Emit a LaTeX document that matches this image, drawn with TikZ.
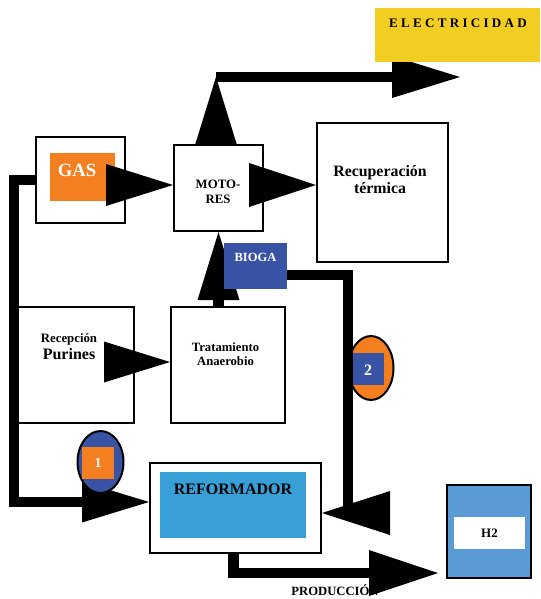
\documentclass[tikz,border=0pt]{standalone}
\usepackage{fontspec}
\setmainfont{Liberation Serif}
\usetikzlibrary{calc,shapes.geometric}
\definecolor{cOrange}{HTML}{F47F20}
\definecolor{cBlue}{HTML}{3953A4}
\definecolor{cSky}{HTML}{389FD7}
\definecolor{cHbox}{HTML}{5B9BD5}
\definecolor{cYellow}{HTML}{F2CD22}
\pgfdeclarelayer{back}
\pgfdeclarelayer{mid}
\pgfsetlayers{back,mid,main}
\begin{document}
\begin{tikzpicture}[x=0.75pt,y=-0.75pt,
  box/.style={draw, line width=1.5pt, fill=white, inner sep=0pt, rectangle},
  patch/.style={draw=none, inner sep=0pt, rectangle},
  oval/.style={ellipse, draw, line width=1.5pt, inner sep=0pt},
  txt/.style={inner sep=0pt, anchor=base, font=\bfseries},
  pipe/.style={line width=7.9pt, line join=miter, line cap=butt},
]
\useasboundingbox (0,0) rectangle (540,599);

% ---------- boxes (bottom layer) ----------
\begin{pgfonlayer}{back}
\node[box, minimum width=66.75pt, minimum height=64.5pt] (gas) at (80.5,180) {};
\node[patch, fill=cOrange, minimum width=48.75pt, minimum height=36pt] (gaslbl) at (82.5,177) {};
\node[box, minimum width=66.75pt, minimum height=64.5pt] (motores) at (218.5,188) {};
\node[box, minimum width=98.25pt, minimum height=104.25pt] (recup) at (382.5,192.5) {};
\node[box, minimum width=87pt, minimum height=87pt] (recep) at (76,365) {};
\node[box, minimum width=85.5pt, minimum height=87pt] (trat) at (228,365) {};
\node[box, minimum width=128.25pt, minimum height=67.5pt] (reform) at (235.5,508) {};
\node[patch, fill=cSky, minimum width=109.5pt, minimum height=49.5pt] (reformin) at (233,505) {};
\node[box, fill=cHbox, minimum width=63pt, minimum height=69.75pt] (h2) at (489,531.5) {};
\node[patch, fill=white, minimum width=53.25pt, minimum height=24pt] (h2in) at (489.5,533) {};
\node[oval, fill=cOrange, minimum width=33.75pt, minimum height=48pt] (c2) at (371,368) {};
\node[patch, fill=cBlue, minimum width=24pt, minimum height=24pt] (c2sq) at (368,369) {};
\node[txt, font=\bfseries\fontsize{9.5}{11}\selectfont] (prodtxt) at (335,595) {PRODUCCIÓN};
\end{pgfonlayer}

% ---------- boxes on top of connectors ----------
\node[patch, fill=cBlue, minimum width=47.25pt, minimum height=34.5pt] (biog) at (255.5,266) {};
\node[patch, fill=cYellow, minimum width=123.75pt, minimum height=40.5pt] (elec) at (457.5,35) {};
\node[oval, fill=cBlue, minimum width=34.5pt, minimum height=46.5pt] (c1) at (100.5,462) {};
\node[patch, fill=cOrange, minimum width=24pt, minimum height=24pt] (c1sq) at (98,463) {};

% ---------- connectors (middle layer) ----------
\coordinate (row1) at (0,185);
\coordinate (row2) at (0,362);
\coordinate (lcorner) at (14,502);
\coordinate (rcorner) at (348,510);
\coordinate (eleccorner) at (216,77);
\coordinate (elecend) at (460,77);
\coordinate (prodend) at (438,573);
\begin{pgfonlayer}{mid}
% GAS -> MOTORES
\fill (motores.west |- row1) -- ++(-67,-21) -- ++(0,42) -- cycle;
% MOTORES -> Recuperacion termica
\fill (recup.west |- row1) -- ++(-67,-22) -- ++(0,44) -- cycle;
% Recepcion -> Tratamiento
\fill (trat.west |- row2) -- ++(-66,-20.5) -- ++(0,41) -- cycle;
% Tratamiento -> MOTORES
\draw[pipe] (motores.south |- trat.north) -- ++(0,-12);
\fill (motores.south) -- ++(-21,68) -- ++(42,0) -- cycle;
% MOTORES -> ELECTRICIDAD
\fill (eleccorner) -- ([xshift=-15.5pt]eleccorner |- motores.north) -- ([xshift=15.5pt]eleccorner |- motores.north) -- cycle;
\draw[pipe] (eleccorner) -- ($(elecend)+(-66,0)$);
\fill (elecend) -- ++(-68,-21) -- ++(0,42) -- cycle;
% GAS -> loop -> REFORMADOR
\draw[pipe] (gas.west) -| (lcorner) -- ($(reform.west |- lcorner)+(-64,0)$);
\fill (reform.west |- lcorner) -- ++(-67,-20.5) -- ++(0,41) -- cycle;
% BIOGA -> REFORMADOR
\draw[pipe] ([yshift=-6.75pt]biog.east) -| (rcorner);
\fill ([yshift=-3.75pt]reform.east) -- ++(68,-22) -- ++(0,44) -- cycle;
% REFORMADOR -> H2 (PRODUCCION)
\draw[pipe] ([xshift=-1.5pt]reform.south) |- ($(prodend)+(-66,0)$);
\fill (prodend) -- ++(-69,-23) -- ++(0,46) -- cycle;
\end{pgfonlayer}

% ---------- texts ----------
\node[txt, font=\bfseries\fontsize{9.8}{12}\selectfont] (electxt) at (458,27.5) {E L E C T R I C I D A D};
\node[txt, text=white, font=\bfseries\fontsize{14}{16}\selectfont] (gastxt) at (77,176.5) {GAS};
\node[txt, font=\bfseries\fontsize{9.6}{11}\selectfont] (motA) at (218,188.3) {MOTO-};
\node[txt, font=\bfseries\fontsize{9.6}{11}\selectfont] (motB) at (218,203.3) {RES};
\node[txt, font=\bfseries\fontsize{11.9}{14}\selectfont] (recupA) at (380,176) {Recuperación};
\node[txt, font=\bfseries\fontsize{11.9}{14}\selectfont] (recupB) at (380,193.3) {térmica};
\node[txt, font=\bfseries\fontsize{9.5}{11}\selectfont] (tratA) at (225.5,351.3) {Tratamiento};
\node[txt, font=\bfseries\fontsize{9.5}{11}\selectfont] (tratB) at (225.5,365) {Anaerobio};
\node[txt, font=\bfseries\fontsize{9.6}{11}\selectfont] (recepA) at (69,342) {Recepción};
\node[txt, font=\bfseries\fontsize{12}{14}\selectfont] (recepB) at (69,359) {Purines};
\node[txt, text=white, font=\bfseries\fontsize{9.4}{11}\selectfont] (biotxt) at (255.5,261.7) {BIOGA};
\node[txt, text=white, font=\bfseries\fontsize{12}{14}\selectfont] (c2txt) at (368,375) {2};
\node[txt, text=white, font=\bfseries\fontsize{10.5}{12}\selectfont] (c1txt) at (98,467) {1};
\node[txt, font=\bfseries\fontsize{12}{14}\selectfont] (reftxt) at (233,494) {REFORMADOR};
\node[txt, font=\bfseries\fontsize{9.7}{11}\selectfont] (h2txt) at (489.5,537.5) {H2};
\end{tikzpicture}
\end{document}
